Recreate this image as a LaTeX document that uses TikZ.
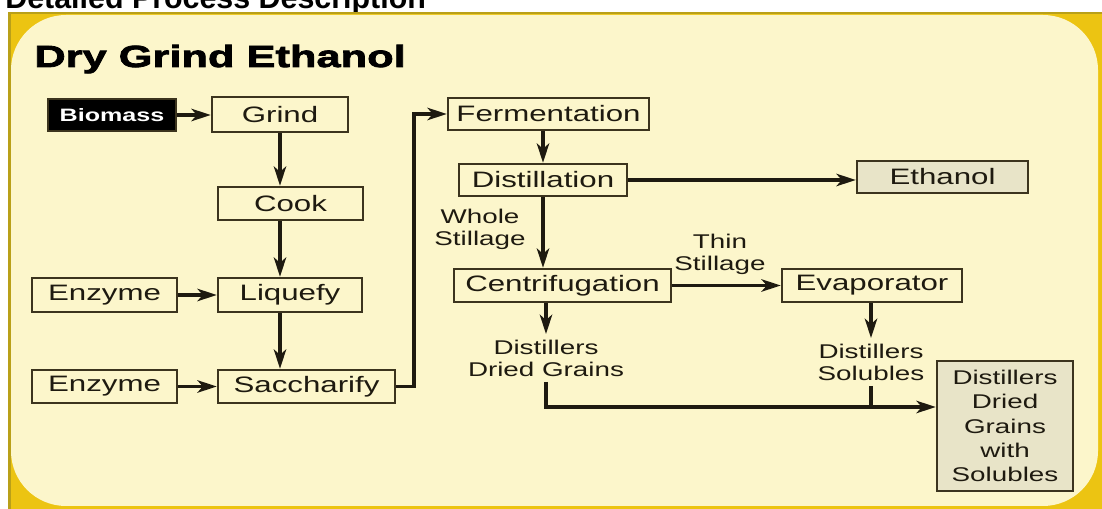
\documentclass[tikz,border=0pt]{standalone}
\usepackage{fontspec}
\setmainfont{Liberation Sans}[FakeStretch=1.4]
\newfontfamily\headfont{Liberation Sans}
\newfontfamily\titlefont{Liberation Sans Bold}[FakeStretch=1.42,FakeBold=2.6]
\usetikzlibrary{arrows.meta}
\usetikzlibrary{positioning}
\definecolor{cream}{RGB}{252,246,203}
\definecolor{gold}{RGB}{236,196,18}
\definecolor{goldline}{RGB}{185,160,25}
\definecolor{ink}{RGB}{30,26,16}
\definecolor{boxline}{RGB}{60,52,30}
\definecolor{shade}{RGB}{232,228,200}
\tikzstyle{proc}=[rectangle,draw=boxline,line width=1.3pt,fill=cream,text=ink,inner sep=0pt,font=\fontsize{12.7}{15}\selectfont]
\tikzstyle{outbox}=[proc,fill=shade]
\tikzstyle{lab}=[align=center,text=ink,inner sep=3pt,font=\fontsize{11.3}{12.5}\selectfont]
\tikzstyle{arr}=[-{Stealth[length=11pt,width=7pt,inset=3pt]},draw=ink,line width=2.1pt]
\tikzstyle{flow}=[draw=ink,line width=2.1pt]
\begin{document}
\begin{tikzpicture}[x=0.02cm,y=-0.02cm]
  \clip (0,0) rectangle (1102,509);
  \node[anchor=base west,inner sep=0pt,font=\headfont\bfseries\fontsize{17.3}{20}\selectfont] (head) at (5,9) {Detailed Process Description};
  % frame
  \fill[gold] (8,12) rectangle (1102,509);
  \fill[goldline] (8,12) rectangle (1102,14.5);
  \fill[goldline] (8,12) rectangle (10.5,509);
  \fill[cream,rounded corners=1.1cm] (11,15) rectangle (1098,506);
  \node[anchor=base west,inner sep=0pt,font=\titlefont\fontsize{17.4}{20}\selectfont] (title) at (34,67) {Dry Grind Ethanol};
  % left column
  \node[proc,fill=black,text=white,font=\bfseries\fontsize{10.2}{12}\selectfont,minimum width=2.56cm,minimum height=0.64cm] (biomass) at (112,115) {Biomass};
  \node[proc,minimum width=2.72cm,minimum height=0.70cm] (grind) at (280,114.5) {Grind};
  \node[proc,minimum width=2.90cm,minimum height=0.66cm] (cook) at (290.5,203.5) {Cook};
  \node[proc,minimum width=2.88cm,minimum height=0.68cm] (liquefy) at (290,295) {Liquefy};
  \node[proc,minimum width=2.90cm,minimum height=0.68cm] (enzymeA) at (104.5,295) {Enzyme};
  \node[proc,minimum width=3.54cm,minimum height=0.66cm] (saccharify) at (306.5,386.5) {Saccharify};
  \node[proc,minimum width=2.90cm,minimum height=0.66cm] (enzymeB) at (104.5,386.5) {Enzyme};
  % right part
  \node[proc,minimum width=4.02cm,minimum height=0.64cm] (ferment) at (548.5,114) {Fermentation};
  \node[proc,minimum width=3.36cm,minimum height=0.64cm] (distill) at (543,180) {Distillation};
  \node[proc,minimum width=4.34cm,minimum height=0.66cm] (centri) at (562.5,285.5) {Centrifugation};
  \node[outbox,minimum width=3.42cm,minimum height=0.64cm] (ethanol) at (942.5,177) {Ethanol};
  \node[proc,minimum width=3.60cm,minimum height=0.66cm] (evap) at (872,285.5) {Evaporator};
  \node[outbox,align=center,font=\fontsize{11.3}{13.9}\selectfont,minimum width=2.72cm,minimum height=2.60cm] (ddgs) at (1005,426) {Distillers\\Dried\\Grains\\with\\Solubles};
  \node[lab] (whole) at (480,229) {Whole\\Stillage};
  \node[lab] (thin) at (720,254) {Thin\\Stillage};
  \node[lab] (ddg) at (546,358) {Distillers\\Dried Grains};
  \node[lab] (ds) at (871,362) {Distillers\\Solubles};
  \coordinate (merge) at (871,407);
  % connectors
  \draw[arr] (biomass.east) -- (biomass.east -| grind.west);
  \draw[arr] (grind.south) -- (grind.south |- cook.north);
  \draw[arr] (grind.south |- cook.south) -- (grind.south |- liquefy.north);
  \draw[arr] (grind.south |- liquefy.south) -- (grind.south |- saccharify.north);
  \draw[arr] (enzymeA) -- (liquefy);
  \draw[arr] (enzymeB) -- (saccharify);
  \draw[arr] (saccharify.east) -- ++(18,0) |- (ferment.west);
  \draw[arr] (ferment.south -| distill) -- (distill.north);
  \draw[arr] (distill.south) -- (distill.south |- centri.north);
  \draw[arr] (distill.east) -- (distill.east -| ethanol.west);
  \draw[arr] (centri.east) -- (centri.east -| evap.west);
  \draw[arr] (centri.south -| ddg) -- (ddg.north);
  \draw[arr] (evap.south -| ds) -- (ds.north);
  \draw[arr] (ddg.south) -- (ddg.south |- merge) -- (merge -| ddgs.west);
  \draw[flow] (ds.south) -- (merge);
\end{tikzpicture}
\end{document}
